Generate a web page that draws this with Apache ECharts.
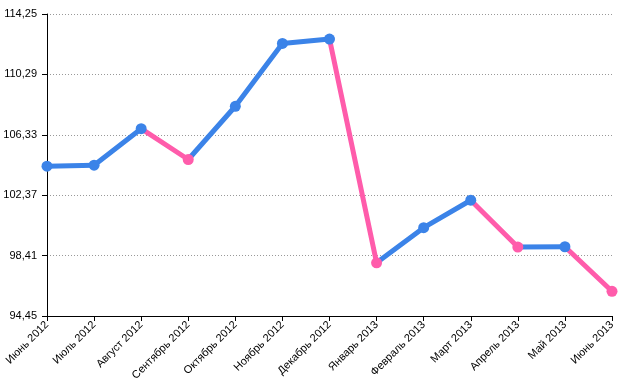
<!DOCTYPE html>
<html><head><meta charset="utf-8">
<script src="https://cdn.jsdelivr.net/npm/echarts@6/dist/echarts.min.js"></script>
<style>html,body{margin:0;padding:0;background:#fff}#c{width:630px;height:385px}</style>
</head><body><div id="c"></div>
<script>
const categories = ['Июнь 2012','Июль 2012','Август 2012','Сентябрь 2012','Октябрь 2012','Ноябрь 2012','Декабрь 2012','Январь 2013','Февраль 2013','Март 2013','Апрель 2013','Май 2013','Июнь 2013'];
const values = [104.27, 104.34, 106.73, 104.71, 108.2, 112.32, 112.61, 97.94, 100.24, 102.04, 98.97, 98.99, 96.07];
const yTicks = [94.45, 98.41, 102.37, 106.33, 110.29, 114.25];
const upColor = '#3b83e8';
const downColor = '#ff5cab';

const chart = echarts.init(document.getElementById('c'), null, {renderer: 'canvas'});
const series = [];
for (let i = 0; i < values.length - 1; i++) {
  const c = values[i + 1] < values[i] ? downColor : upColor;
  series.push({
    type: 'line',
    data: values.map((v, j) => (j === i || j === i + 1) ? v : null),
    showSymbol: false,
    symbol: 'none',
    lineStyle: {color: c, width: 5, cap: 'round'},
    silent: true,
    z: 2
  });
}
series.push({
  type: 'scatter',
  symbolSize: 11,
  data: values.map((v, i) => ({
    value: v,
    itemStyle: {opacity: 1, color: (i > 0 && v < values[i - 1]) ? downColor : upColor}
  })),
  itemStyle: {opacity: 1},
  z: 3
});

chart.setOption({
  animation: false,
  backgroundColor: '#fff',
  textStyle: {fontFamily: 'Liberation Sans'},
  grid: {left: 47, right: 18, top: 14, bottom: 69, containLabel: false},
  xAxis: {
    type: 'category',
    data: categories,
    boundaryGap: false,
    axisLine: {lineStyle: {color: '#000', width: 1}},
    axisTick: {show: true, length: 5, lineStyle: {color: '#000'}},
    axisLabel: {interval: 0, rotate: 45, fontSize: 11, color: '#000', margin: 7, fontFamily: 'Liberation Sans'},
    splitLine: {show: false}
  },
  yAxis: {
    type: 'value',
    min: yTicks[0],
    max: yTicks[yTicks.length - 1],
    axisLine: {show: true, lineStyle: {color: '#000', width: 1}},
    axisTick: {show: true, length: 5, lineStyle: {color: '#000'}, customValues: yTicks},
    axisLabel: {fontSize: 11, color: '#000', margin: 10, fontFamily: 'Liberation Sans', customValues: yTicks,
      formatter: v => v.toFixed(2).replace('.', ',')},
    splitLine: {show: true, lineStyle: {color: '#999', type: [1, 2], width: 1}}
  },
  series: series
});
</script>
</body></html>
